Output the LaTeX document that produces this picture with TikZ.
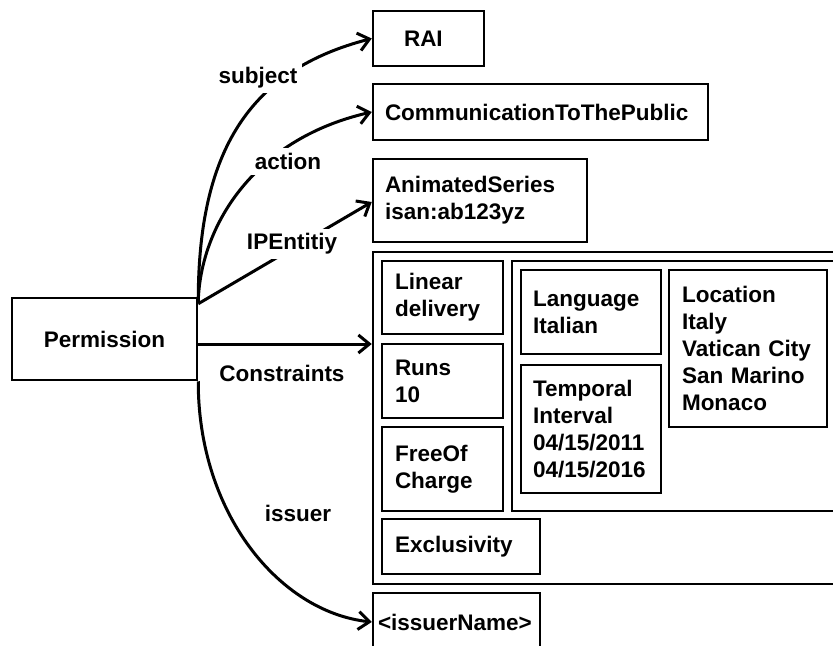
\documentclass[tikz,border=0pt]{standalone}
\usepackage{fontspec}
\setmainfont{Liberation Sans}
\usetikzlibrary{arrows.meta,calc}
\begin{document}
\begin{tikzpicture}[x=1bp,y=-1bp,
  font=\fontsize{22.5bp}{27bp}\selectfont\bfseries,
  box/.style={draw, line width=2.5bp, inner ysep=0pt, align=left},
  arr/.style={line width=3bp, -{Straight Barb[length=11bp,width=18bp]}},
  lbl/.style={fill=white, inner sep=5bp}]
\useasboundingbox (0,0) rectangle (833,646);
\clip (0,0) rectangle (833,646);
% boxes
\node[box, align=center, inner xsep=13bp, text width=159bp, minimum height=82bp] (perm) at (104.5,339) {Permission};
\node[box, inner xsep=31bp, text width=49bp, minimum height=55bp] (rai) at (428.5,38.5) {RAI};
\node[box, inner xsep=12bp, text width=311bp, minimum height=56bp] (comm) at (540.5,112) {CommunicationToThePublic};
\node[box, inner xsep=12bp, text width=190bp, minimum height=83bp] (anim) at (480,200.5) {AnimatedSeries\\isan:ab123yz};
\node[box, minimum width=477bp, minimum height=332bp] (outer) at (611.5,418) {};
\node[box, minimum width=338bp, minimum height=250bp] (inner) at (681,386) {};
\node[box, inner xsep=13bp, text width=95bp, minimum height=73bp] (lin) at (442.5,297.5) {Linear\\delivery};
\node[box, inner xsep=13bp, text width=95bp, minimum height=74bp] (runs) at (442.5,381) {Runs\\10};
\node[box, inner xsep=13bp, text width=95bp, minimum height=84bp] (free) at (442.5,469) {FreeOf\\Charge};
\node[box, inner xsep=13bp, text width=132bp, minimum height=55bp] (excl) at (461,546.5) {Exclusivity};
\node[box, inner xsep=12bp, text width=116bp, minimum height=84bp] (lang) at (591,312) {Language\\Italian};
\node[box, inner xsep=12bp, text width=116bp, minimum height=128bp] (temp) at (591,429) {Temporal\\Interval\\04/15/2011\\04/15/2016};
\node[box, inner xsep=13bp, text width=132bp, minimum height=157bp] (loc) at (748,348.5) {Location\\Italy\\Vatican City\\San Marino\\Monaco};
\node[box, inner xsep=5bp, text width=157bp, minimum height=58bp] (iss) at (456.5,622) {<issuerName>};
% connectors
\draw[arr] ([yshift=-5bp]perm.north east) .. controls (198,150) and (250,70) .. (rai.west);
\draw[arr] ([yshift=-5bp]perm.north east) .. controls (200,230) and (250,140) .. (comm.west);
\draw[arr] ([yshift=-7bp]perm.north east) -- ([yshift=-1.5bp]anim.west);
\draw[arr] ([yshift=-5bp]perm.east) -- ([yshift=-5bp]perm.east -| outer.west);
\draw[arr] (perm.south east) .. controls (198,514) and (280,612) .. (iss.west);
% labels
\node[lbl] (lsubj) at (258,77.5) {subject};
\node[lbl] (lact) at (288,161.5) {action};
\node[lbl] (lip) at (292,244) {IPEntitiy};
\node[lbl] (lcon) at (282,373) {Constraints};
\node[lbl] (liss) at (298,513) {issuer};
\end{tikzpicture}
\end{document}
